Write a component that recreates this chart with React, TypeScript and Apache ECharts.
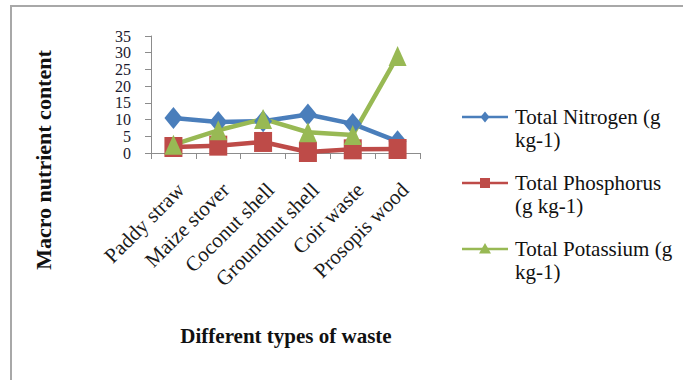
import React, { useEffect, useRef } from "react";
import * as echarts from "echarts";

const categories = [
  "Paddy straw",
  "Maize stover",
  "Coconut shell",
  "Groundnut shell",
  "Coir waste",
  "Prosopis wood",
];
const nitrogen = [10.5, 9.3, 9.5, 11.5, 8.7, 3.5];
const phosphorus = [1.8, 2.2, 3.3, 0.3, 1.1, 1.2];
const potassium = [2.5, 6.8, 10.2, 6.2, 5.4, 29];
const seriesNames = [
  "Total Nitrogen (g kg-1)",
  "Total Phosphorus (g kg-1)",
  "Total Potassium (g kg-1)",
];
// legend text as it wraps in the key
const legendLines = [
  ["Total Nitrogen (g", "kg-1)"],
  ["Total Phosphorus", "(g kg-1)"],
  ["Total Potassium (g", "kg-1)"],
];

const SERIF = "Liberation Serif";
const BLUE = "#4A7EBB";
const RED = "#BE4B48";
const GREEN = "#98B954";
const COLORS = [BLUE, RED, GREEN];

// key layout
const KEY_X = 462;
const KEY_LINE_W = 46;
const KEY_TOP = 117;
const KEY_STEP = 66;
const KEY_LINE_H = 23;

function keyMarker(i: number, cx: number, cy: number, color: string) {
  if (i === 0) {
    return {
      type: "polygon",
      shape: { points: [[cx, cy - 5.5], [cx + 4.5, cy], [cx, cy + 5.5], [cx - 4.5, cy]] },
      style: { fill: color },
    };
  }
  if (i === 1) {
    return { type: "rect", shape: { x: cx - 5, y: cy - 5, width: 10, height: 10 }, style: { fill: color } };
  }
  return {
    type: "polygon",
    shape: { points: [[cx, cy - 6], [cx + 6, cy + 4.5], [cx - 6, cy + 4.5]] },
    style: { fill: color },
  };
}

function buildKey() {
  const items: any[] = [];
  seriesNames.forEach((_, i) => {
    const cy = KEY_TOP + i * KEY_STEP;
    const color = COLORS[i];
    items.push({
      type: "line",
      shape: { x1: KEY_X, y1: cy, x2: KEY_X + KEY_LINE_W, y2: cy },
      style: { stroke: color, lineWidth: 2.5 },
    });
    items.push(keyMarker(i, KEY_X + KEY_LINE_W / 2, cy, color));
    // one text element per wrapped line
    legendLines[i].forEach((txt, j) => {
      items.push({
        type: "text",
        x: KEY_X + KEY_LINE_W + 7,
        y: cy + j * KEY_LINE_H,
        style: {
          text: txt,
          fontFamily: SERIF,
          fontSize: 21,
          fontWeight: "normal",
          fill: "#111111",
          align: "left",
          verticalAlign: "middle",
        },
      });
    });
  });
  return items;
}

export default function App() {
  const ref = useRef<HTMLDivElement>(null);

  useEffect(() => {
    if (!ref.current) return;
    const chart = echarts.init(ref.current, undefined, { renderer: "svg" });

    const line = (name: string, data: number[], color: string, symbol: string, size: number[]) => ({
      name,
      type: "line",
      data,
      symbol,
      symbolSize: size,
      showAllSymbol: true,
      lineStyle: { color, width: 4.5 },
      itemStyle: { color },
      z: 2,
    });

    chart.setOption({
      animation: false,
      backgroundColor: "#ffffff",
      textStyle: { fontFamily: SERIF },
      grid: { left: 151, right: 263, top: 36, bottom: 227, containLabel: false },
      xAxis: {
        type: "category",
        data: categories,
        boundaryGap: true,
        axisLine: { lineStyle: { color: "#8c8c8c", width: 1 } },
        axisTick: { show: true, interval: 0, length: 6, lineStyle: { color: "#8c8c8c" } },
        axisLabel: {
          interval: 0,
          rotate: 45,
          margin: 26,
          verticalAlign: "top",
          fontFamily: SERIF,
          fontSize: 21,
          color: "#1a1a1a",
        },
        splitLine: { show: false },
      },
      yAxis: {
        type: "value",
        min: 0,
        max: 35,
        interval: 5,
        axisLine: { show: true, lineStyle: { color: "#8c8c8c", width: 1 } },
        axisTick: { show: true, length: 6, lineStyle: { color: "#8c8c8c" } },
        axisLabel: {
          margin: 20,
          showMinLabel: true,
          showMaxLabel: true,
          hideOverlap: false,
          fontFamily: SERIF,
          fontSize: 16,
          lineHeight: 16,
          color: "#1a1a2e",
        },
        splitLine: { show: false },
      },
      series: [
        line(seriesNames[0], nitrogen, BLUE, "diamond", [18, 22]),
        line(seriesNames[1], phosphorus, RED, "rect", [18, 20]),
        line(seriesNames[2], potassium, GREEN, "triangle", [18, 20]),
      ],
      graphic: [
        {
          type: "polyline",
          shape: { points: [[11, 380], [11, 6], [690, 6]] },
          style: { stroke: "#a8a8a8", lineWidth: 2, fill: "none" },
          silent: true,
        },
        ...buildKey(),
        {
          type: "text",
          x: 43,
          y: 160,
          rotation: Math.PI / 2,
          style: {
            text: "Macro nutrient content",
            fontFamily: SERIF,
            fontSize: 22,
            fontWeight: "bold",
            fill: "#111111",
            align: "center",
            verticalAlign: "middle",
          },
        },
        {
          type: "text",
          x: 286,
          y: 336,
          style: {
            text: "Different types of waste",
            fontFamily: SERIF,
            fontSize: 21,
            fontWeight: "bold",
            fill: "#111111",
            align: "center",
            verticalAlign: "middle",
          },
        },
      ],
    });

    return () => chart.dispose();
  }, []);

  return (
    <div
      ref={ref}
      style={{ position: "fixed", left: 0, top: 0, width: 683, height: 380, background: "#fff" }}
    />
  );
}
